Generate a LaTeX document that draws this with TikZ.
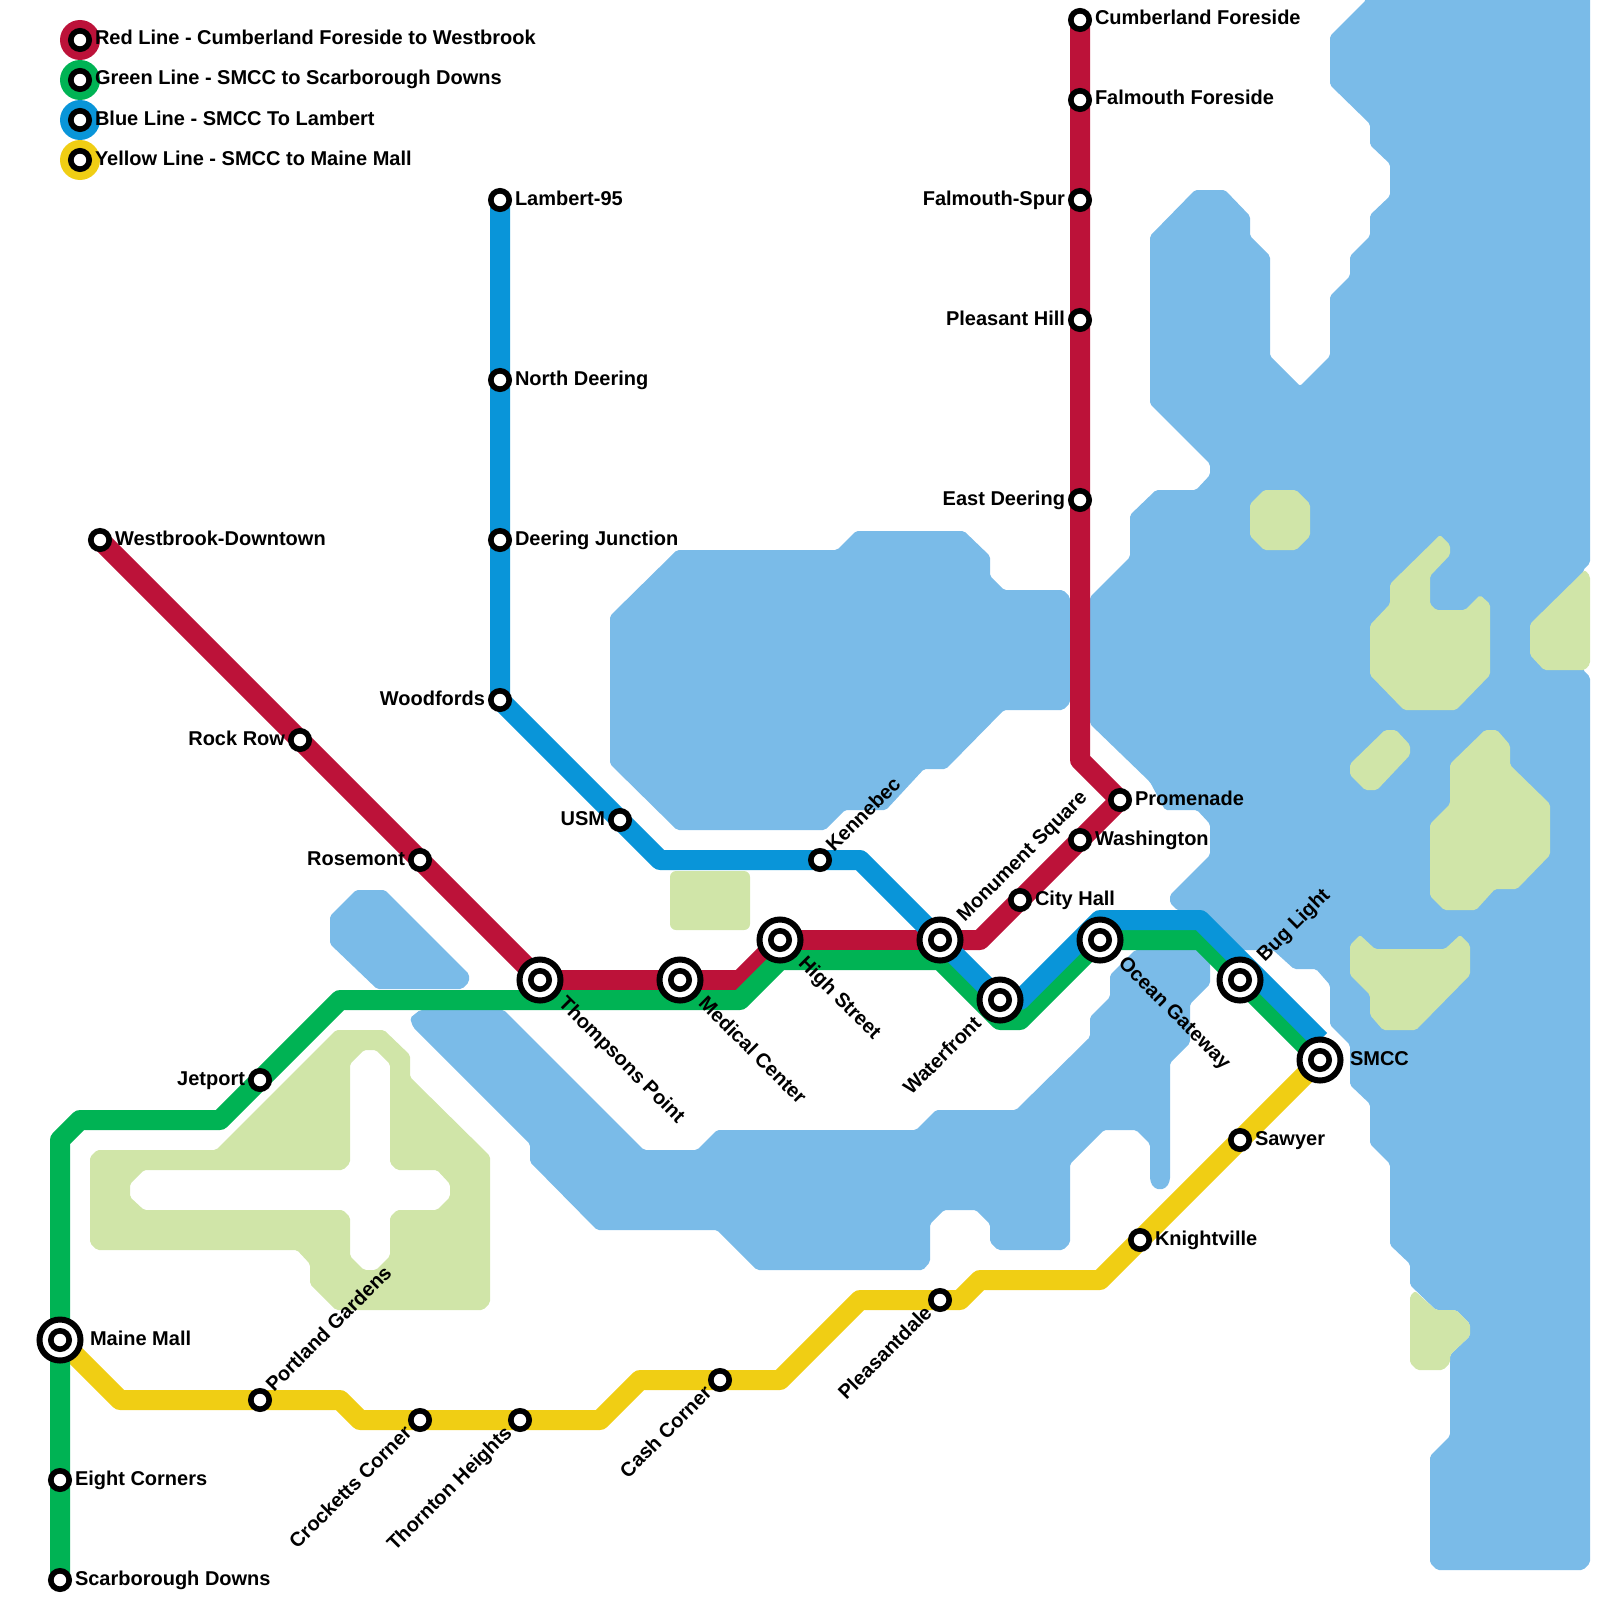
\documentclass[tikz,border=0pt]{standalone}
\usepackage{fontspec}
\setmainfont{Liberation Sans}
\usepackage{xcolor}
\definecolor{water}{HTML}{7ABBE8}
\definecolor{land}{HTML}{D0E5A8}
\definecolor{redln}{HTML}{BC1239}
\definecolor{greenln}{HTML}{00B354}
\definecolor{blueln}{HTML}{0995D9}
\definecolor{yellowln}{HTML}{F0CE14}

\begin{document}
\begin{tikzpicture}[
  x=1pt,y=-1pt,
  ln/.style={line width=20pt,line join=round},
  sea/.style={fill=water,rounded corners=2pt},
  ground/.style={fill=land,rounded corners=2pt},
  stopn/.style={circle,draw=black,fill=white,line width=5.6pt,minimum size=18.4pt,inner sep=0pt,outer sep=0pt},
  hubn/.style={circle,draw=black,fill=white,line width=6pt,minimum size=41pt,inner sep=0pt,outer sep=0pt},
  keyn/.style={circle,minimum size=40pt,inner sep=0pt,outer sep=0pt},
  tag/.style={font=\fontsize{20}{24}\selectfont\bfseries,inner sep=0pt,outer sep=0pt}
]
\useasboundingbox (0,0) rectangle (1600,1600);
% water
\fill[sea] (1366,-5)--(1366,0)--(1330,36)--(1330,85)--(1370,124)--(1370,145)--(1390,164)--(1390,196)--(1370,215)--(1370,236)--(1350,256)--(1350,276)--(1330,296)--(1330,356)--(1300,386)--(1270,356)--(1270,256)--(1250,236)--(1250,216)--(1225,190)--(1195,190)--(1150,236)--(1150,404)--(1210,464)--(1210,475)--(1196,490)--(1156,490)--(1130,515)--(1130,557)--(1090,597)--(1090,724)--(1150,782)--(1165,810)--(1197,810)--(1210,824)--(1210,855)--(1170,895)--(1170,903)--(1177,910)--(1200,915)--(1235,950)--(1273,950)--(1294,969)--(1316,969)--(1330,985)--(1330,1025)--(1350,1045)--(1350,1085)--(1370,1104)--(1370,1144)--(1390,1164)--(1390,1245)--(1410,1264)--(1410,1285)--(1436,1310)--(1456,1310)--(1470,1324)--(1470,1336)--(1450,1355)--(1450,1436)--(1430,1456)--(1430,1563)--(1437,1570)--(1583,1570)--(1590,1563)--(1590,677)--(1583,670)--(1583,570)--(1590,563)--(1590,-5)--cycle;
\fill[sea] (610,616)--(677,550)--(837,550)--(856,531)--(964,531)--(990,556)--(990,576)--(1004,590)--(1063,590)--(1070,597)--(1070,703)--(1063,710)--(1004,710)--(946,769)--(924,769)--(886,810)--(845,810)--(825,830)--(677,830)--(610,764)--cycle;
\fill[sea] (356,890)--(385,890)--(469,974)--(469,982)--(462,989)--(377,989)--(330,944)--(330,916)--cycle;
\fill[sea] (420,1010)--(504,1010)--(644,1150)--(697,1150)--(717,1130)--(916,1130)--(936,1110)--(1016,1110)--(1090,1037)--(1090,1017)--(1110,997)--(1110,975)--(1135,950)--(1210,950)--(1210,984)--(1190,1004)--(1190,1043)--(1170,1063)--(1170,1180)--(1167,1187)--(1160,1190)--(1153,1187)--(1150,1180)--(1150,1144)--(1136,1130)--(1104,1130)--(1070,1164)--(1070,1243)--(1063,1250)--(998,1250)--(990,1242)--(990,1224)--(976,1210)--(944,1210)--(930,1224)--(930,1262)--(923,1270)--(757,1270)--(717,1230)--(597,1230)--(530,1162)--(530,1144)--(413,1027)--(410,1018)--cycle;
% land
\fill[ground,even odd rule] (97,1150)--(216,1150)--(336,1030)--(384,1030)--(410,1055)--(410,1077)--(490,1156)--(490,1303)--(483,1310)--(336,1310)--(310,1284)--(310,1264)--(297,1250)--(97,1250)--(90,1243)--(90,1157)--cycle
  (144,1170)--(343,1170)--(350,1163)--(350,1064)--(364,1050)--(376,1050)--(390,1064)--(390,1163)--(397,1170)--(437,1170)--(450,1184)--(450,1197)--(437,1210)--(397,1210)--(390,1217)--(390,1256)--(376,1270)--(364,1270)--(350,1256)--(350,1217)--(343,1210)--(144,1210)--(130,1197)--(130,1184)--cycle;
\fill[land,rounded corners=6pt] (670,871) rectangle (750,930);
\fill[ground] (1250,504)--(1264,490)--(1296,490)--(1310,504)--(1310,536)--(1296,550)--(1264,550)--(1250,536)--cycle;
\fill[ground] (1440,535)--(1450,545)--(1450,555)--(1430,576)--(1430,604)--(1436,610)--(1465,610)--(1480,595)--(1490,604)--(1490,675)--(1456,710)--(1404,710)--(1370,675)--(1370,625)--(1390,604)--(1390,584)--cycle;
\fill[ground] (1585,570)--(1590,576)--(1590,664)--(1585,670)--(1544,670)--(1530,655)--(1530,624)--cycle;
\fill[ground] (1385,730)--(1396,730)--(1410,745)--(1410,755)--(1377,790)--(1365,790)--(1350,775)--(1350,764)--cycle;
\fill[ground] (1485,730)--(1497,730)--(1510,745)--(1510,765)--(1550,804)--(1550,855)--(1517,889)--(1495,889)--(1476,910)--(1444,910)--(1430,896)--(1430,824)--(1450,804)--(1450,764)--cycle;
\fill[ground] (1360,935)--(1375,949)--(1445,949)--(1460,935)--(1470,945)--(1470,975)--(1416,1030)--(1383,1030)--(1370,1015)--(1370,995)--(1350,975)--(1350,945)--cycle;
\fill[ground] (1415,1291)--(1436,1310)--(1456,1310)--(1470,1324)--(1470,1336)--(1450,1355)--(1450,1363)--(1443,1370)--(1417,1370)--(1410,1363)--(1410,1296)--cycle;
% stations
\foreach \nm/\px/\py in {cumberland/1080/20,falmouth/1080/100,spur/1080/200,pleasant/1080/320,eastdeering/1080/500,promenade/1120/800,washington/1080/840,cityhall/1020/900,monument/940/940,high/780/940,medical/680/980,thompsons/540/980,rosemont/420/860,rockrow/300/740,westbrook/100/540,lambert/500/200,northdeering/500/380,junction/500/540,woodfords/500/700,usm/620/820,kennebec/820/860,waterfront/1000/1000,ocean/1100/940,buglight/1240/980,smcc/1320/1060,sawyer/1240/1140,knightville/1140/1240,pleasantdale/940/1300,cash/720/1380,thornton/520/1420,crocketts/420/1420,gardens/260/1400,mainemall/60/1340,eight/60/1480,scarborough/60/1580,jetport/260/1080} {\coordinate (\nm) at (\px,\py);}
% bends
\foreach \nm/\px/\py in {r1/1080/760,r2/980/940,r3/740/980,g1/60/1140,g2/80/1120,g3/220/1120,g4/340/1000,g5/740/1000,g6/780/960,g7/940/960,g8/1000/1020,g9/1020/1020,g10/1100/940,g11/1200/940,b1/660/860,b2/860/860,b3/1020/1000,b4/1100/920,b5/1200/920,b6/1320/1040,y1/1100/1280,y2/980/1280,y3/960/1300,y4/860/1300,y5/780/1380,y6/640/1380,y7/600/1420,y8/360/1420,y9/340/1400,y10/120/1400} {\coordinate (\nm) at (\px,\py);}
\draw[ln,yellowln] (smcc)--(sawyer)--(knightville)--(y1)--(y2)--(y3)--(pleasantdale)--(y4)--(y5)--(cash)--(y6)--(y7)--(thornton)--(crocketts)--(y8)--(y9)--(gardens)--(y10)--(mainemall);
\draw[ln,redln] (cumberland)--(falmouth)--(spur)--(pleasant)--(eastdeering)--(r1)--(promenade)--(washington)--(cityhall)--(r2)--(monument)--(high)--(r3)--(medical)--(thompsons)--(rosemont)--(rockrow)--(westbrook);
\draw[ln,greenln] (scarborough)--(eight)--(mainemall)--(g1)--(g2)--(g3)--(jetport)--(g4)--(g5)--(g6)--(g7)--(g8)--(g9)--(g10)--(g11)--(buglight)--(smcc);
\draw[ln,blueln] (lambert)--(northdeering)--(junction)--(woodfords)--(usm)--(b1)--(kennebec)--(b2)--(monument)--(waterfront)--(b3)--(b4)--(b5)--(b6);
% small stops
\foreach \nm/\ang/\anc/\dx/\txt in {cumberland/0/west/15/Cumberland Foreside,falmouth/0/west/15/Falmouth Foreside,spur/0/east/-15/Falmouth-Spur,pleasant/0/east/-15/Pleasant Hill,eastdeering/0/east/-15/East Deering,promenade/0/west/15/Promenade,washington/0/west/15/Washington,cityhall/0/west/15/City Hall,rosemont/0/east/-15/Rosemont,rockrow/0/east/-15/Rock Row,westbrook/0/west/15/Westbrook-Downtown,lambert/0/west/15/Lambert-95,northdeering/0/west/15/North Deering,junction/0/west/15/Deering Junction,woodfords/0/east/-15/Woodfords,usm/0/east/-15/USM,kennebec/45/west/15/Kennebec,sawyer/0/west/15/Sawyer,knightville/0/west/15/Knightville,pleasantdale/45/east/-15/Pleasantdale,cash/45/east/-15/Cash Corner,thornton/45/east/-15/Thornton Heights,crocketts/45/east/-15/Crocketts Corner,gardens/45/west/15/Portland Gardens,eight/0/west/15/Eight Corners,scarborough/0/west/15/Scarborough Downs,jetport/0/east/-15/Jetport} {
  \node[stopn] (s-\nm) at (\nm) {};
  \node[tag,rotate=\ang,xshift=\dx pt,yshift=-5pt,anchor=base \anc] (t-\nm) at (\nm) {\txt};
}
% interchanges
\foreach \nm/\ang/\anc/\dx/\txt in {monument/45/west/30/Monument Square,high/-45/west/30/High Street,medical/-45/west/30/Medical Center,thompsons/-45/west/30/Thompsons Point,waterfront/45/east/-30/Waterfront,ocean/-45/west/30/Ocean Gateway,buglight/45/west/30/Bug Light,smcc/0/west/30/SMCC,mainemall/0/west/30/Maine Mall} {
  \node[hubn] (h-\nm) at (\nm) {};
  \node[stopn] (s-\nm) at (\nm) {};
  \node[tag,rotate=\ang,xshift=\dx pt,yshift=-5pt,anchor=base \anc] (t-\nm) at (\nm) {\txt};
}
% key
\foreach \nm/\py/\col/\txt in {red/40/redln/Red Line - Cumberland Foreside to Westbrook,green/80/greenln/Green Line - SMCC to Scarborough Downs,blue/120/blueln/Blue Line - SMCC To Lambert,yellow/160/yellowln/Yellow Line - SMCC to Maine Mall} {
  \node[keyn,fill=\col] (k-\nm) at (80,\py) {};
  \node[stopn] (ks-\nm) at (k-\nm) {};
  \node[tag,xshift=15pt,yshift=-5pt,anchor=base west] (kt-\nm) at (k-\nm) {\txt};
}
\end{tikzpicture}
\end{document}
